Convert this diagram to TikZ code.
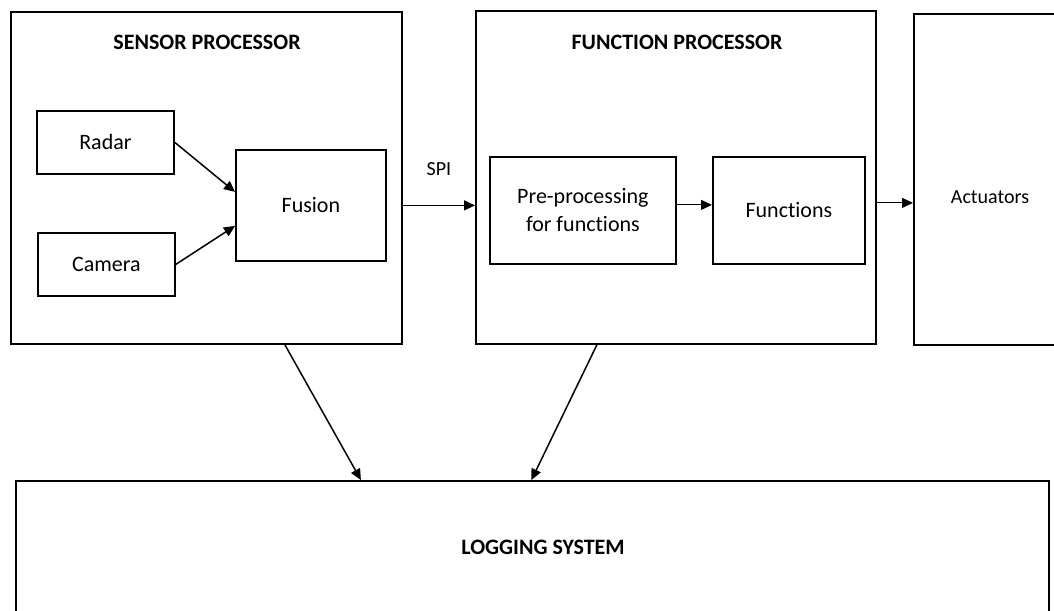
\documentclass[tikz,border=0pt]{standalone}
\usepackage{fontspec}
\setmainfont[Ligatures=NoCommon]{Carlito}
\usetikzlibrary{arrows.meta}
\begin{document}
\begin{tikzpicture}[x=1pt,y=-1pt,
  box/.style={draw, line width=1.8pt, anchor=north west, inner sep=0pt,
    font=\fontsize{22}{28}\selectfont, align=center},
  title/.style={font=\fontsize{22}{26}\selectfont\bfseries},
  plain/.style={font=\fontsize{20}{24}\selectfont},
  link/.style={line width=1.5pt, -{Triangle[length=11pt,width=10pt]}},
  thinlink/.style={line width=1pt, -{Triangle[length=11pt,width=10pt]}}]
\useasboundingbox (0,0) rectangle (1054,610);
\fill[white] (0,0) rectangle (1054,610);

% Sensor processor
\node (sensor) [box, minimum width=391pt, minimum height=332pt] at (10,11) {};
\node (sensortitle) [title] at (207,42) {SENSOR PROCESSOR};
\node (radar) [box, minimum width=137pt, minimum height=63pt] at (36,110) {Radar};
\node (camera) [box, minimum width=137pt, minimum height=63pt] at (37,232) {Camera};
\node (fusion) [box, minimum width=150pt, minimum height=111pt] at (235,149) {Fusion};

% Function processor
\node (func) [box, minimum width=400pt, minimum height=333pt] at (475,10) {};
\node (functitle) [title] at (677,42) {FUNCTION PROCESSOR};
\node (pre) [box, minimum width=186pt, minimum height=107pt] at (489,156)
  {Pre-processing\\for functions};
\node (fns) [box, minimum width=152pt, minimum height=107pt] at (712,156) {Functions};

% Actuators
\node (act) [box, minimum width=160pt, minimum height=331pt] at (913,13) {};
\node (acttext) [plain] at (990,197) {Actuators};

% Logging system
\node (log) [box, minimum width=1033pt, minimum height=160pt] at (15,480) {};
\node (logtext) [title] at (543,547) {LOGGING SYSTEM};

% Connectors
\draw[link] (radar.east) -- ([yshift=13.5pt]fusion.west);
\draw[link] (camera.east) -- ([yshift=-20.5pt]fusion.west);
\draw[link] (sensor.east |- fusion) -- (func.west |- fusion)
  node[plain, midway, yshift=36pt] {SPI};
\coordinate (pout) at ([yshift=5.5pt]pre.east);
\draw[thinlink] (pout) -- (fns.west |- pout);
\coordinate (fout) at ([yshift=-25.5pt]func.east);
\draw[thinlink] (fout) -- (act.west |- fout);
\draw[link] ([xshift=78.5pt]sensor.south) -- ([xshift=-171.5pt]log.north);
\draw[link] ([xshift=-79pt]func.south) -- ([xshift=-1pt]log.north);
\end{tikzpicture}
\end{document}
